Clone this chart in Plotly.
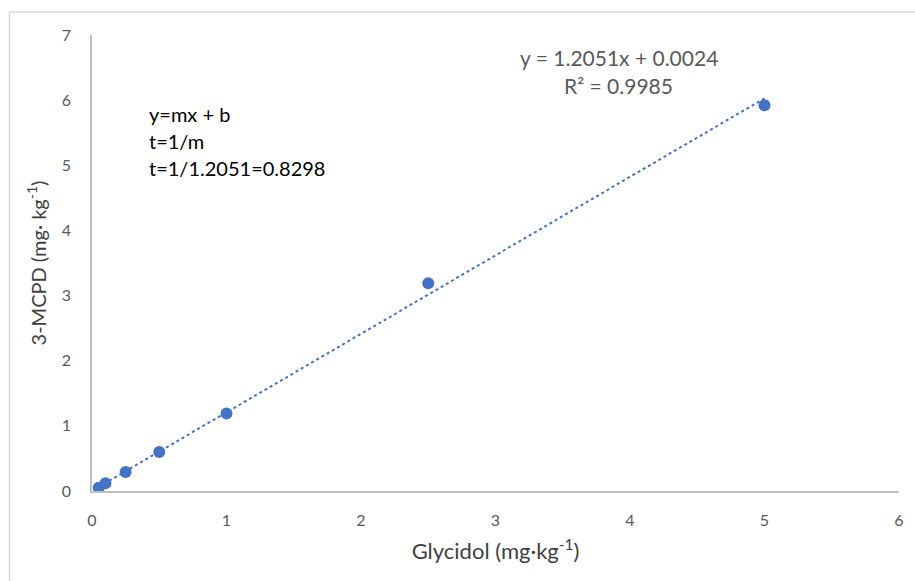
import plotly.graph_objects as go
import numpy as np

glycidol = [0.05, 0.1, 0.25, 0.5, 1.0, 2.5, 5.0]
mcpd = [0.05, 0.12, 0.29, 0.60, 1.19, 3.19, 5.92]
slope = 1.2051
intercept = 0.0024
r2 = 0.9985
x_ticks = [0, 1, 2, 3, 4, 5, 6]
y_ticks = [0, 1, 2, 3, 4, 5, 6, 7]

blue = "#4472C4"
grey = "#595959"
font = "Lato, 'Open Sans', sans-serif"

fit_x = np.array([min(glycidol), max(glycidol)])
fit_y = slope * fit_x + intercept

PW = 812
fig = go.Figure()
fig.add_trace(go.Scatter(x=fit_x, y=fit_y, mode="lines",
                         line=dict(color=blue, width=2, dash="dot"), hoverinfo="skip"))
fig.add_trace(go.Scatter(x=glycidol, y=mcpd, mode="markers",
                         marker=dict(color=blue, size=12)))

fig.update_layout(
    width=915, height=581,
    margin=dict(l=92, r=11, t=35, b=90),
    paper_bgcolor="white", plot_bgcolor="white",
    showlegend=False,
    font=dict(family=font, color=grey),
    xaxis=dict(range=[0, 6], tickvals=x_ticks, showgrid=False, zeroline=False,
               showline=True, linecolor="#BFBFBF", linewidth=1.5, ticks="",
               tickfont=dict(size=16, color=grey), ticklabelstandoff=14,
               title=dict(text="Glycidol (mg·kg<sup>-1</sup>)", font=dict(size=22, color="#404040"), standoff=16)),
    yaxis=dict(range=[0, 7], tickvals=y_ticks, showgrid=False, zeroline=False,
               showline=True, linecolor="#BFBFBF", linewidth=1.5, ticks="",
               tickfont=dict(size=16, color=grey), ticklabelstandoff=16,
               title=dict(text="3-MCPD (mg· kg<sup>-1</sup>)", font=dict(size=20, color="#404040"), standoff=10)),
    shapes=[dict(type="rect", xref="paper", yref="paper",
                 x0=(9 - 92) / PW, x1=1.2, y0=-0.5, y1=(491 - 12) / 456,
                 line=dict(color="#D9D9D9", width=1.5), fillcolor="rgba(0,0,0,0)")],
    annotations=[
        dict(x=(622 - 92) / PW, y=(491 - 57) / 456, xref="paper", yref="paper",
             text=f"y = {slope}x + {intercept}", showarrow=False,
             font=dict(size=21, color=grey), xanchor="center", yanchor="middle"),
        dict(x=(622 - 92) / PW, y=(491 - 86) / 456, xref="paper", yref="paper",
             text=f"R² = {r2}", showarrow=False,
             font=dict(size=21, color=grey), xanchor="center", yanchor="middle"),
        dict(x=(147 - 92) / PW, y=(491 - 114) / 456, xref="paper", yref="paper",
             text="y=mx + b", showarrow=False, align="left",
             font=dict(size=20, color="black"), xanchor="left", yanchor="middle"),
        dict(x=(147 - 92) / PW, y=(491 - 141) / 456, xref="paper", yref="paper",
             text="t=1/m", showarrow=False, align="left",
             font=dict(size=20, color="black"), xanchor="left", yanchor="middle"),
        dict(x=(147 - 92) / PW, y=(491 - 168) / 456, xref="paper", yref="paper",
             text=f"t=1/{slope}=0.8298", showarrow=False, align="left",
             font=dict(size=20, color="black"), xanchor="left", yanchor="middle"),
    ],
)

fig.write_html("out.html", config={"displayModeBar": False},
               post_script="document.body.style.margin='0px';")
